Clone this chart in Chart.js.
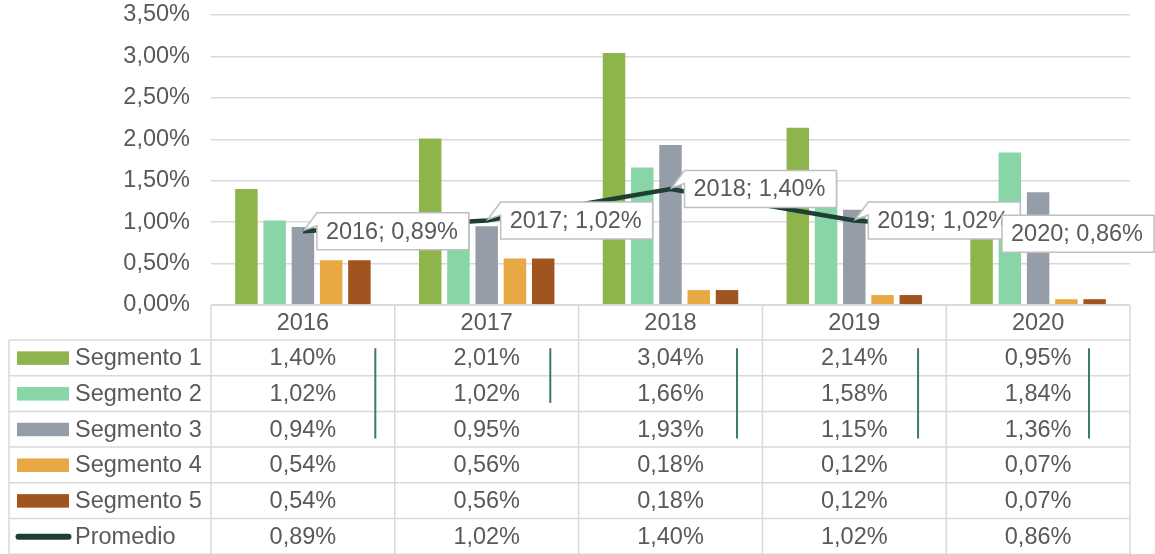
<!DOCTYPE html>
<html>
<head>
<meta charset="utf-8">
<script src="https://cdn.jsdelivr.net/npm/chart.js@4.4.1/dist/chart.umd.min.js"></script>
<style>
  html, body { margin: 0; padding: 0; background: #ffffff; }
  #wrap { width: 1155px; height: 554px; position: relative; }
</style>
</head>
<body>
<div id="wrap"><canvas id="c" width="1155" height="554"></canvas></div>
<script>
// ---- data ----
const categories = ['2016', '2017', '2018', '2019', '2020'];
const seriesNames = ['Segmento 1', 'Segmento 2', 'Segmento 3', 'Segmento 4', 'Segmento 5'];
const segmento1 = [1.40, 2.01, 3.04, 2.14, 0.95];
const segmento2 = [1.02, 1.02, 1.66, 1.58, 1.84];
const segmento3 = [0.94, 0.95, 1.93, 1.15, 1.36];
const segmento4 = [0.54, 0.56, 0.18, 0.12, 0.07];
const segmento5 = [0.54, 0.56, 0.18, 0.12, 0.07];
const promedio  = [0.89, 1.02, 1.40, 1.02, 0.86];
const promedioName = 'Promedio';
const yTicks = [0, 0.5, 1.0, 1.5, 2.0, 2.5, 3.0, 3.5];

// ---- styles ----
const barColors = ['#8db54b', '#88d5a8', '#959ea8', '#e8a844', '#a0541f'];
const lineColor = '#1f3f35';
const textColor = '#595959';
const gridColor = '#d9d9d9';
const FONT = '"Liberation Sans", Arial, sans-serif';
const FS = 23.5;

const fmt = v => v.toFixed(2).replace('.', ',') + '%';

const barSeries = [segmento1, segmento2, segmento3, segmento4, segmento5];

// decorative vertical marks seen inside the table (fraction across column, rows covered)
const tableMarks = [
  { frac: 0.894, rows: 3 },
  { frac: 0.846, rows: 2 },
  { frac: 0.862, rows: 3 },
  { frac: 0.847, rows: 3 },
  { frac: 0.777, rows: 3 }
];

const datasets = barSeries.map((d, i) => ({
  type: 'bar',
  label: seriesNames[i],
  data: d,
  backgroundColor: barColors[i],
  borderWidth: 0,
  categoryPercentage: 0.7685,
  barPercentage: 0.796,
  order: 1
}));
datasets.push({
  type: 'line',
  label: promedioName,
  data: promedio,
  borderColor: lineColor,
  borderWidth: 4.5,
  pointRadius: 0,
  tension: 0,
  order: 0
});

const tablePlugin = {
  id: 'dataTable',
  afterDraw(chart) {
    const ctx = chart.ctx;
    const ca = chart.chartArea;
    const xs = chart.scales.x;
    const catW = (ca.right - ca.left) / categories.length;
    const leftX = 9;
    const headerTop = ca.bottom;
    const headerH = 35;
    const rowH = 35.7;
    const rowsTop = headerTop + headerH;
    const nRows = 6;
    const bottom = rowsTop + nRows * rowH;

    ctx.save();
    ctx.strokeStyle = gridColor;
    ctx.lineWidth = 1.5;
    ctx.beginPath();
    ctx.moveTo(ca.left, headerTop); ctx.lineTo(ca.right, headerTop);
    for (let r = 0; r <= nRows; r++) {
      const y = rowsTop + r * rowH;
      ctx.moveTo(leftX, y); ctx.lineTo(ca.right, y);
    }
    ctx.moveTo(leftX, rowsTop); ctx.lineTo(leftX, bottom);
    for (let i = 0; i <= categories.length; i++) {
      const x = ca.left + i * catW;
      ctx.moveTo(x, headerTop); ctx.lineTo(x, bottom);
    }
    ctx.stroke();

    ctx.fillStyle = textColor;
    ctx.font = FS + 'px ' + FONT;
    ctx.textBaseline = 'middle';
    ctx.textAlign = 'center';
    categories.forEach((c, i) => {
      ctx.fillText(c, xs.getPixelForValue(i), headerTop + headerH / 2 + 1);
    });

    const allSeries = barSeries.concat([promedio]);
    const allNames = seriesNames.concat([promedioName]);
    allSeries.forEach((vals, r) => {
      const yc = rowsTop + r * rowH + rowH / 2 + 1;
      ctx.textAlign = 'center';
      ctx.fillStyle = textColor;
      vals.forEach((v, i) => {
        ctx.fillText(fmt(v), xs.getPixelForValue(i), yc);
      });
      if (r < barSeries.length) {
        ctx.fillStyle = barColors[r];
        ctx.fillRect(17, yc - 7.5, 52, 13.5);
      } else {
        ctx.strokeStyle = lineColor;
        ctx.lineWidth = 6;
        ctx.lineCap = 'round';
        ctx.beginPath();
        ctx.moveTo(18.5, yc - 0.5); ctx.lineTo(68.5, yc - 0.5);
        ctx.stroke();
      }
      ctx.fillStyle = textColor;
      ctx.textAlign = 'left';
      ctx.fillText(allNames[r], 75, yc);
    });

    ctx.strokeStyle = '#3f7a63';
    ctx.lineWidth = 2;
    ctx.lineCap = 'butt';
    ctx.beginPath();
    tableMarks.forEach((m, i) => {
      const x = ca.left + (i + m.frac) * catW;
      ctx.moveTo(x, rowsTop + 8.3);
      ctx.lineTo(x, rowsTop + m.rows * rowH - 8.5);
    });
    ctx.stroke();
    ctx.restore();
  }
};

const calloutPlugin = {
  id: 'callouts',
  afterDatasetsDraw(chart) {
    const ctx = chart.ctx;
    const idx = chart.data.datasets.findIndex(d => d.type === 'line');
    const meta = chart.getDatasetMeta(idx);
    ctx.save();
    ctx.font = FS + 'px ' + FONT;
    meta.data.forEach((pt, i) => {
      const txt = categories[i] + '; ' + fmt(promedio[i]);
      const tw = ctx.measureText(txt).width;
      const w = tw + 20;
      const h = 37;
      let L = pt.x + 14;
      let wedge = true;
      if (L + w > chart.width - 1) { L = chart.width - 1 - w; wedge = false; }
      const T = pt.y - h / 2;
      const R = L + w, B = T + h;
      ctx.beginPath();
      ctx.moveTo(L, T);
      ctx.lineTo(R, T);
      ctx.lineTo(R, B);
      ctx.lineTo(L, B);
      if (wedge) {
        ctx.lineTo(L, T + 13);
        ctx.lineTo(pt.x + 1, pt.y - 1);
      }
      ctx.closePath();
      ctx.fillStyle = '#ffffff';
      ctx.fill();
      ctx.strokeStyle = '#bfbfbf';
      ctx.lineWidth = 1.5;
      ctx.stroke();
      ctx.fillStyle = textColor;
      ctx.textAlign = 'left';
      ctx.textBaseline = 'middle';
      ctx.fillText(txt, L + 9, pt.y + 1);
    });
    ctx.restore();
  }
};

new Chart(document.getElementById('c'), {
  data: { labels: categories, datasets: datasets },
  options: {
    responsive: false,
    animation: false,
    events: [],
    layout: { padding: { left: 0, right: 25, top: 15, bottom: 249 } },
    plugins: { legend: { display: false }, tooltip: { enabled: false } },
    scales: {
      x: { display: false, offset: true },
      y: {
        min: 0, max: 3.5,
        afterFit(scale) {
          scale.width = 211;
          scale.paddingTop = 0;
          scale.paddingBottom = 0;
        },
        afterBuildTicks(scale) { scale.ticks = yTicks.map(v => ({ value: v })); },
        border: { display: false },
        grid: { color: gridColor, lineWidth: 1.5, drawTicks: false },
        ticks: {
          padding: 21,
          color: textColor,
          font: { family: FONT, size: FS },
          callback: v => fmt(v)
        }
      }
    }
  },
  plugins: [tablePlugin, calloutPlugin]
});
</script>
</body>
</html>
